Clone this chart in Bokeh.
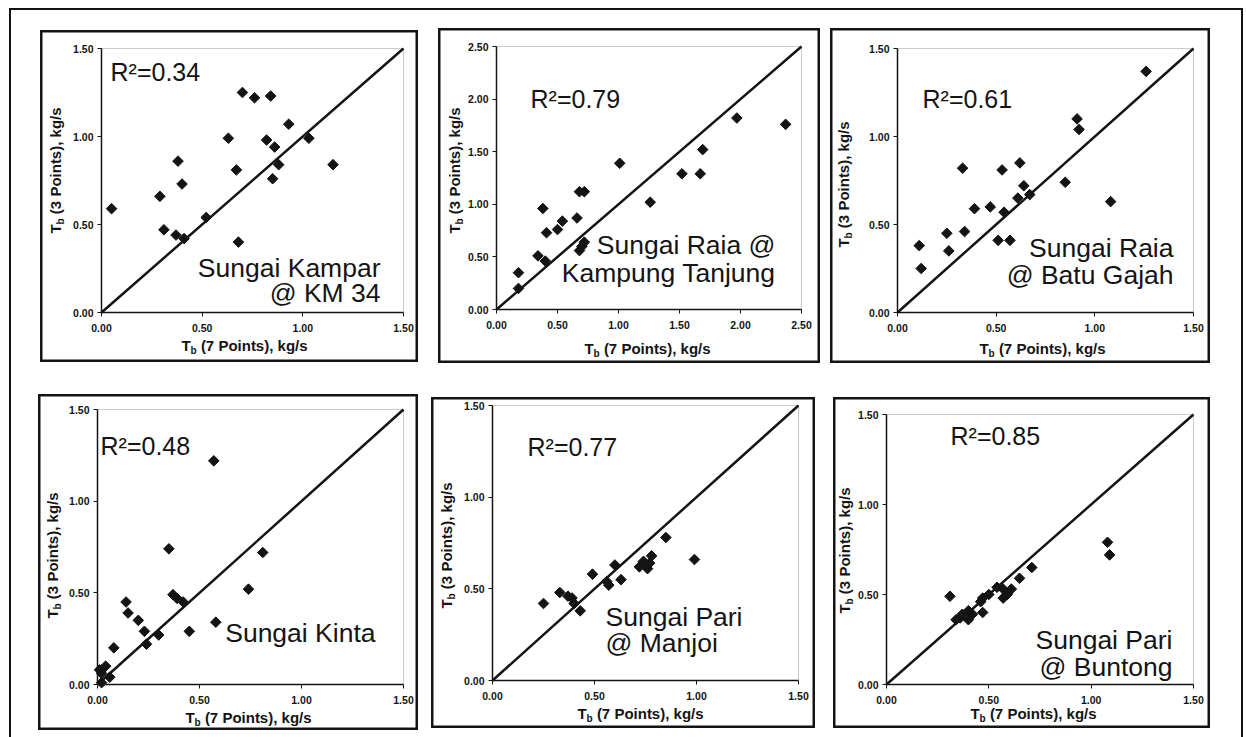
import math
from bokeh.plotting import figure
from bokeh.layouts import row, column
from bokeh.models import Range1d, FixedTicker, NumeralTickFormatter, Label, BoxAnnotation
from bokeh.embed import file_html
from bokeh.resources import INLINE

# ------------------------------------------------------------------ data
station_lines = [
    ["Sungai Kampar", "@ KM 34"],
    ["Sungai Raia @", "Kampung Tanjung"],
    ["Sungai Raia", "@ Batu Gajah"],
    ["Sungai Kinta"],
    ["Sungai Pari", "@ Manjoi"],
    ["Sungai Pari", "@ Buntong"],
]
r2_values = ["0.34", "0.79", "0.61", "0.48", "0.77", "0.85"]
axis_max = [1.5, 2.5, 1.5, 1.5, 1.5, 1.5]
ticks_short = [0.0, 0.5, 1.0, 1.5]
ticks_long = [0.0, 0.5, 1.0, 1.5, 2.0, 2.5]
x_title_rest = "(7 Points), kg/s"
y_title_rest = "(3 Points), kg/s"
title_symbol = "T"
title_sub = "b"

kampar_x = [0.05, 0.70, 0.76, 0.84, 0.93, 0.63, 0.82, 0.86, 1.03, 0.38, 0.67,
            0.88, 1.15, 0.85, 0.40, 0.29, 0.31, 0.37, 0.41, 0.52, 0.68]
kampar_y = [0.59, 1.25, 1.22, 1.23, 1.07, 0.99, 0.98, 0.94, 0.99, 0.86, 0.81,
            0.84, 0.84, 0.76, 0.73, 0.66, 0.47, 0.44, 0.42, 0.54, 0.40]

tanjung_x = [2.37, 1.97, 1.69, 1.67, 1.52, 1.01, 1.26, 0.68, 0.72, 0.38, 0.54,
             0.66, 0.50, 0.41, 0.72, 0.68, 0.70, 0.34, 0.40, 0.18, 0.18]
tanjung_y = [1.76, 1.82, 1.52, 1.29, 1.29, 1.39, 1.02, 1.12, 1.12, 0.96, 0.84,
             0.87, 0.76, 0.73, 0.64, 0.56, 0.60, 0.51, 0.46, 0.35, 0.20]

gajah_x = [1.26, 0.91, 0.92, 0.62, 0.53, 0.33, 0.64, 0.85, 0.67, 0.61, 1.08,
           0.39, 0.47, 0.54, 0.34, 0.25, 0.26, 0.51, 0.57, 0.11, 0.12]
gajah_y = [1.37, 1.10, 1.04, 0.85, 0.81, 0.82, 0.72, 0.74, 0.67, 0.65, 0.63,
           0.59, 0.60, 0.57, 0.46, 0.45, 0.35, 0.41, 0.41, 0.38, 0.25]

kinta_x = [0.57, 0.35, 0.81, 0.74, 0.37, 0.39, 0.42, 0.58, 0.45, 0.30, 0.14,
           0.15, 0.20, 0.23, 0.24, 0.08, 0.04, 0.02, 0.01, 0.06, 0.02, 0.02]
kinta_y = [1.22, 0.74, 0.72, 0.52, 0.49, 0.47, 0.45, 0.34, 0.29, 0.27, 0.45,
           0.39, 0.35, 0.29, 0.22, 0.20, 0.10, 0.08, 0.08, 0.04, 0.01, 0.06]

manjoi_x = [0.99, 0.85, 0.78, 0.72, 0.74, 0.76, 0.77, 0.60, 0.63, 0.57, 0.56,
            0.49, 0.33, 0.25, 0.37, 0.39, 0.40, 0.43]
manjoi_y = [0.66, 0.78, 0.68, 0.62, 0.65, 0.61, 0.64, 0.63, 0.55, 0.52, 0.54,
            0.58, 0.48, 0.42, 0.46, 0.45, 0.42, 0.38]

buntong_x = [1.08, 1.09, 0.71, 0.65, 0.61, 0.57, 0.57, 0.54, 0.50, 0.47, 0.46,
             0.47, 0.42, 0.40, 0.37, 0.40, 0.36, 0.34, 0.31, 0.59]
buntong_y = [0.79, 0.72, 0.65, 0.59, 0.53, 0.48, 0.53, 0.54, 0.50, 0.48, 0.46,
             0.40, 0.39, 0.41, 0.39, 0.36, 0.37, 0.36, 0.49, 0.50]

series_x = [kampar_x, tanjung_x, gajah_x, kinta_x, manjoi_x, buntong_x]
series_y = [kampar_y, tanjung_y, gajah_y, kinta_y, manjoi_y, buntong_y]

# ------------------------------------------------------------------ layout (page pixels)
PAGE_X0, PAGE_Y0 = 9, 8
panel_box = [(40, 30, 418, 362), (438, 28, 820, 363), (830, 28, 1210, 363),
             (38, 394, 418, 730), (431, 397, 815, 728), (833, 397, 1210, 728)]
panel_inner = [(101, 48, 403, 312), (496, 46, 801, 309), (897, 48, 1193, 312),
               (97, 409, 403, 684), (492, 405, 798, 680), (886, 414, 1193, 684)]
r2_px = [(110, 71.5), (530, 98.5), (922, 98), (100, 445), (527, 446), (950, 435)]
station_px = [(380, [267, 292], "right"), (775, [244, 272], "right"),
              (1173, [247, 274], "right"), (375, [632], "right"),
              (605, [616, 642], "left"), (1172, [639, 666], "right")]
xtitle_px = [(244, 345), (647, 348), (1042, 348), (248, 717), (640, 713), (1033, 713)]
ytitle_px = [(55, 170), (454, 170), (843, 184), (52, 555), (446, 545), (844, 550)]

INK = "#141414"
FONT = "Liberation Sans"
TITLE_PX = 15
SUB_PX = 10
T_W = 0.611 * TITLE_PX
B_W = 0.611 * SUB_PX
SP_W = 0.278 * TITLE_PX
REST_W = 7.113 * TITLE_PX
TOTAL_W = T_W + B_W + SP_W + REST_W
SUB_DROP = 4.7


def lab(p, x, y, text, size, align="left", bold=False, angle=0.0):
    p.add_layout(Label(x=x, y=y, text=text, text_font=FONT,
                       text_font_size=f"{size}px",
                       text_font_style="bold" if bold else "normal",
                       text_align=align, text_baseline="middle",
                       angle=angle, text_color=INK))


figs = []
row_tops = [PAGE_Y0, max(b[3] for b in panel_box[:3])]
for i in range(6):
    m = axis_max[i]
    bx0, by0, bx1, by1 = panel_box[i]
    ix0, iy0, ix1, iy1 = panel_inner[i]
    kx = (ix1 - ix0) / m
    ky = (iy1 - iy0) / m

    def dx(px, ix0=ix0, kx=kx):
        return (px - ix0) / kx

    def dy(py, iy1=iy1, ky=ky):
        return (iy1 - py) / ky

    x_rng = Range1d(dx(bx0), dx(bx1))
    y_rng = Range1d(dy(by1), dy(by0))

    col = i % 3
    prev_right = PAGE_X0 if col == 0 else panel_box[i - 1][2]
    top_ref = row_tops[i // 3]
    margin = (by0 - top_ref, 0, 0, bx0 - prev_right)

    p = figure(width=bx1 - bx0, height=by1 - by0, x_range=x_rng, y_range=y_rng,
               output_backend="svg", toolbar_location=None,
               min_border=0, margin=margin,
               background_fill_color="white", border_fill_color="white")
    p.grid.visible = False
    p.outline_line_color = INK
    p.outline_line_width = 4

    ticks = ticks_long if m > 2 else ticks_short
    for ax in (p.xaxis[0], p.yaxis[0]):
        ax.fixed_location = 0
        ax.bounds = (0, m)
        ax.ticker = FixedTicker(ticks=ticks)
        ax.formatter = NumeralTickFormatter(format="0.00")
        ax.major_label_text_font = FONT
        ax.major_label_text_font_style = "bold"
        ax.major_label_text_font_size = "10.5px"
        ax.major_label_text_color = INK
        ax.axis_line_color = INK
        ax.axis_line_width = 1.5
        ax.major_tick_line_color = INK
        ax.major_tick_in = 0
        ax.major_tick_out = 4
        ax.minor_tick_line_color = None
    p.xaxis.major_label_standoff = 7
    p.yaxis.major_label_standoff = 4

    # plot-area border (top / right)
    p.add_layout(BoxAnnotation(left=0, right=m, bottom=0, top=m, fill_alpha=0,
                               line_color="#555555", line_width=1, level="underlay"))

    # 1:1 line and data
    p.line([0, m], [0, m], line_color=INK, line_width=2.5)
    p.scatter(series_x[i], series_y[i], marker="square", size=7.5,
              angle=math.pi / 4, fill_color=INK, line_color=INK)

    # R^2
    rx, ry = r2_px[i]
    lab(p, dx(rx), dy(ry), "R\u00b2=" + r2_values[i], 25)
    # station name
    sx, ys, al = station_px[i]
    for txt, yy in zip(station_lines[i], ys):
        lab(p, dx(sx), dy(yy), txt, 26.5, align=al)

    # x axis title  T_b (7 Points), kg/s
    cx, cy = xtitle_px[i]
    sx0 = cx - TOTAL_W / 2
    lab(p, dx(sx0), dy(cy), title_symbol, TITLE_PX, bold=True)
    lab(p, dx(sx0 + T_W), dy(cy + SUB_DROP), title_sub, SUB_PX, bold=True)
    lab(p, dx(sx0 + T_W + B_W + SP_W), dy(cy), x_title_rest, TITLE_PX, bold=True)

    # y axis title  T_b (3 Points), kg/s  (rotated)
    cx, cy = ytitle_px[i]
    sy0 = cy + TOTAL_W / 2
    ang = math.pi / 2
    lab(p, dx(cx), dy(sy0), title_symbol, TITLE_PX, bold=True, angle=ang)
    lab(p, dx(cx + SUB_DROP), dy(sy0 - T_W), title_sub, SUB_PX, bold=True, angle=ang)
    lab(p, dx(cx), dy(sy0 - T_W - B_W - SP_W), y_title_rest, TITLE_PX, bold=True, angle=ang)

    figs.append(p)

top = row(figs[0], figs[1], figs[2], spacing=0)
bottom = row(figs[3], figs[4], figs[5], spacing=0)
page = column(top, bottom, spacing=0, width=1234, height=729,
              margin=(PAGE_Y0, 0, 0, PAGE_X0),
              styles={"box-shadow": "inset 2px 2px 0 0 #141414, inset -2px 0 0 0 #141414",
                      "background": "white"})

open("out.html", "w").write(file_html(page, INLINE, title="Sediment transport comparison"))
